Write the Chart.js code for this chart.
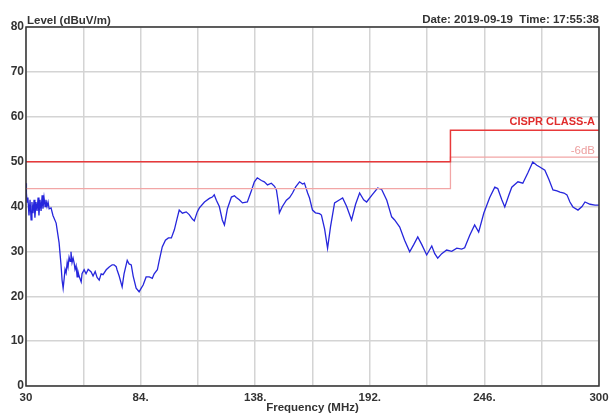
<!DOCTYPE html>
<html>
<head>
<meta charset="utf-8">
<script src="https://cdn.jsdelivr.net/npm/chart.js@4.4.0/dist/chart.umd.min.js"></script>
<style>
  html, body { margin: 0; padding: 0; background: #fff; }
  #wrap { width: 614px; height: 417px; }
</style>
</head>
<body>
<div id="wrap"><canvas id="mycanvas" width="614" height="417"></canvas></div>
<script>
// measured trace, frequency in MHz / level in dBuV/m
var freq = [30.0, 30.2, 30.5, 30.9, 31.4, 31.9, 32.4, 32.8, 33.3, 33.8, 34.2, 34.7, 35.2, 35.7, 36.1, 36.6,
    37.1, 37.6, 38.0, 38.5, 39.0, 39.4, 39.9, 40.4, 40.9, 41.8, 42.7, 44.2, 45.6, 46.5, 47.0, 47.5,
    48.0, 48.4, 48.9, 49.4, 49.8, 50.3, 50.8, 51.2, 51.7, 52.2, 52.7, 53.1, 53.6, 54.1, 54.5, 55.0,
    56.0, 56.4, 57.4, 58.3, 59.3, 60.7, 61.6, 62.6, 63.5, 64.5, 65.4, 66.3, 67.8, 69.2, 70.6, 71.5,
    72.5, 72.9, 73.9, 75.3, 76.2, 77.7, 78.6, 79.6, 80.5, 81.9, 83.3, 84.3, 85.2, 86.6, 88.1, 89.5,
    90.4, 91.9, 92.8, 94.2, 95.7, 97.1, 98.5, 99.9, 101.3, 102.2, 103.7, 105.5, 106.9, 108.4, 109.3, 110.7,
    111.7, 114.1, 116.4, 117.8, 118.7, 119.7, 121.1, 122.5, 123.5, 124.9, 126.8, 128.2, 129.1, 130.5, 132.0, 134.3,
    136.2, 137.6, 139.0, 140.9, 142.3, 143.8, 145.6, 147.1, 148.0, 149.0, 149.4, 150.8, 152.7, 154.2, 155.6, 157.0,
    158.9, 160.3, 161.2, 162.7, 163.6, 165.0, 166.4, 168.3, 169.2, 170.7, 172.1, 173.5, 175.4, 177.8, 179.2, 181.1,
    183.4, 185.3, 187.2, 189.1, 190.5, 192.9, 195.7, 197.6, 200.0, 202.3, 203.7, 206.1, 208.4, 210.8, 212.7, 214.6,
    216.5, 218.8, 221.2, 222.6, 224.0, 225.9, 228.2, 230.6, 233.0, 235.3, 236.7, 239.1, 241.4, 243.3, 245.7, 248.5,
    250.9, 252.3, 254.2, 255.6, 257.5, 258.9, 261.8, 264.1, 266.5, 268.8, 270.7, 272.1, 274.5, 276.4, 278.3, 280.2,
    281.6, 283.5, 284.9, 286.3, 287.7, 290.1, 292.0, 293.4, 295.8, 298.1, 300.0];
var level = [45.2, 43, 41, 42, 38, 41.5, 37, 41, 38.5, 41.5, 37.5, 41, 39, 42, 38, 41.5,
    39, 42.5, 39.5, 42, 40, 41.5, 40, 41, 39.5, 39.7, 38, 36.3, 31.9, 27, 23.6, 21.8,
    24, 26, 25.2, 27.5, 26.5, 28.7, 27.8, 29.9, 27.5, 28.5, 27.4, 26, 26.8, 24.3, 25.5, 24.5,
    23.2, 25, 25.9, 25, 26, 25.4, 24.5, 25.5, 24.2, 23.6, 25, 24.8, 25.9, 26.5, 27, 27,
    26.6, 25.9, 24.5, 22.1, 25, 28, 27.2, 27, 24.5, 21.8, 21, 21.8, 22.5, 24.3, 24.3, 24,
    25, 25.9, 28, 31, 32.5, 33, 33, 34.8, 37.5, 39.2, 38.5, 38.8, 38.2, 37.2, 36.8, 38.8,
    39.7, 41, 41.8, 42.1, 42.6, 41.4, 40, 37, 35.9, 39.5, 42.1, 42.4, 42, 41.5, 40.8, 41,
    43.5, 45.5, 46.4, 45.8, 45.5, 44.8, 45.2, 44.5, 43.7, 40.5, 38.6, 40, 41.4, 42, 43, 44.3,
    45.5, 45, 45.2, 43, 41.9, 39.2, 38.6, 38.4, 38.1, 35, 30.7, 35.5, 40.8, 41.5, 41.9, 40,
    37, 40.5, 43, 41.5, 41, 42.5, 44.1, 43.8, 41.4, 37.7, 37, 35.4, 32.5, 29.9, 31.5, 33.2,
    31.5, 29.2, 31.2, 29.5, 28.5, 29.5, 30.3, 30, 30.7, 30.5, 30.8, 33.6, 35.9, 34.3, 38.5, 42,
    44.3, 44, 41.5, 39.9, 42.5, 44.3, 45.5, 45.2, 47.5, 49.9, 49.2, 48.8, 48.1, 46, 43.7, 43.5,
    43.2, 43, 42.6, 41, 39.9, 39.2, 40, 41, 40.5, 40.3, 40.3];

// CISPR class A limit and the -6 dB margin
var limitFreq = [30, 230, 230, 300];
var limitA = [50, 50, 57, 57];
var limitMargin = [44, 44, 51, 51];

var xTicks = [30, 57, 84, 111, 138, 165, 192, 219, 246, 273, 300];
var xTickLabels = ['30', '', '84.', '', '138.', '', '192.', '', '246.', '', '300'];
var yTickLabels = ['0', '10', '20', '30', '40', '50', '60', '70', '80'];

function pts(xs, ys) {
    var out = [];
    for (var i in xs) {
        out.push({x: xs[i], y: ys[i]});
    }
    return out;
}

var FONT = "'Liberation Sans', Arial, sans-serif";

// header texts, limit names and the plot frame
var extras = {
    id: 'extras',
    afterDatasetsDraw: function(chart) {
        var c = chart.ctx;
        var a = chart.chartArea;
        var ys = chart.scales.y;
        c.save();
        c.strokeStyle = '#333';
        c.lineWidth = 1.5;
        c.strokeRect(a.left, a.top, a.right - a.left, a.bottom - a.top);

        c.fillStyle = '#333';
        c.font = 'bold 11.5px ' + FONT;
        c.textBaseline = 'alphabetic';
        c.textAlign = 'left';
        c.fillText('Level (dBuV/m)', 27, 24);
        c.textAlign = 'right';
        c.fillText('Date: 2019-09-19  Time: 17:55:38', 599, 23);

        c.font = 'bold 11px ' + FONT;
        c.fillStyle = '#e02c2c';
        c.fillText('CISPR CLASS-A', 595, ys.getPixelForValue(57) - 5);
        c.font = '11.5px ' + FONT;
        c.fillStyle = '#eda0a0';
        c.fillText('-6dB', 595, ys.getPixelForValue(51) - 3);
        c.restore();
    }
};

var chartdata = {
    datasets: [
        {
            label: 'CISPR CLASS-A',
            data: pts(limitFreq, limitA),
            borderColor: '#e8393a',
            borderWidth: 1.5,
            pointRadius: 0,
            fill: false
        },
        {
            label: '-6dB',
            data: pts(limitFreq, limitMargin),
            borderColor: '#f2a6a6',
            borderWidth: 1.3,
            pointRadius: 0,
            fill: false
        },
        {
            label: 'Level',
            data: pts(freq, level),
            borderColor: '#2626dc',
            borderWidth: 1.3,
            pointRadius: 0,
            lineTension: 0,
            fill: false
        }
    ]
};

var ctx = document.getElementById('mycanvas');

var LineGraph = new Chart(ctx, {
    type: 'line',
    data: chartdata,
    plugins: [extras],
    options: {
        responsive: false,
        animation: false,
        events: [],
        layout: { padding: { top: 27, right: 15, left: 0, bottom: 0 } },
        plugins: {
            legend: { display: false },
            tooltip: { enabled: false }
        },
        scales: {
            x: {
                type: 'linear',
                min: 30,
                max: 300,
                afterBuildTicks: function(axis) {
                    axis.ticks = xTicks.map(function(v) { return {value: v}; });
                },
                afterFit: function(scale) { scale.height = 31; },
                grid: { color: '#d4d4d4', lineWidth: 1.5, drawTicks: false },
                border: { display: false },
                ticks: {
                    autoSkip: false,
                    maxRotation: 0,
                    padding: 5,
                    color: '#333',
                    font: { family: FONT, size: 11.5, weight: 'bold' },
                    callback: function(v, i) { return xTickLabels[i]; }
                },
                title: {
                    display: true,
                    text: 'Frequency (MHz)',
                    color: '#333',
                    padding: { top: 0, bottom: 2 },
                    font: { family: FONT, size: 11.5, weight: 'bold' }
                }
            },
            y: {
                min: 0,
                max: 80,
                afterFit: function(scale) { scale.width = 26; },
                grid: { color: '#d4d4d4', lineWidth: 1.5, drawTicks: false },
                border: { display: false },
                ticks: {
                    stepSize: 10,
                    padding: 2,
                    color: '#333',
                    font: { family: FONT, size: 12, weight: 'bold' },
                    callback: function(v, i) { return yTickLabels[i]; }
                }
            }
        }
    }
});
</script>
</body>
</html>
